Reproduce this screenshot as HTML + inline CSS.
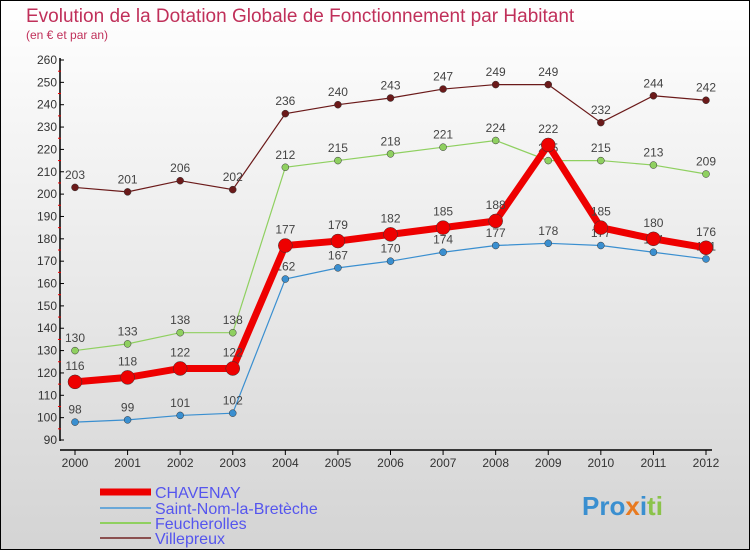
<!DOCTYPE html>
<html><head><meta charset="utf-8"><style>
body{margin:0}
#c{width:750px;height:550px;position:relative;overflow:hidden;font-family:"Liberation Sans",sans-serif}
</style></head><body>
<div id="c">
<svg id="s" width="750" height="550" xmlns="http://www.w3.org/2000/svg">
<defs><linearGradient id="bg" x1="0" y1="0" x2="0" y2="1"><stop offset="0" stop-color="#ffffff"/><stop offset="1" stop-color="#d4d4d4"/></linearGradient></defs>
<rect x="0.5" y="0.5" width="749" height="549" fill="url(#bg)" stroke="#000"/>
<text x="26" y="22" font-size="19" fill="#c0305a">Evolution de la Dotation Globale de Fonctionnement par Habitant</text>
<text x="26" y="39" font-size="12" fill="#c0305a">(en € et par an)</text>
<g id="axes"></g><g id="series"></g><g id="legend"></g>
<text x="582" y="515" font-size="26" font-weight="bold" fill="#3a8fd0">Pro<tspan fill="#e87a20">x</tspan><tspan fill="#3a8fd0">i</tspan><tspan fill="#8bc34a">ti</tspan></text>
</svg>
</div>
<script>
const years=[2000,2001,2002,2003,2004,2005,2006,2007,2008,2009,2010,2011,2012];
const yTicks=[90,100,110,120,130,140,150,160,170,180,190,200,210,220,230,240,250,260];
const chavenay=[116,118,122,122,177,179,182,185,188,222,185,180,176];
const saintNom=[98,99,101,102,162,167,170,174,177,178,177,174,171];
const feucherolles=[130,133,138,138,212,215,218,221,224,215,215,213,209];
const villepreux=[203,201,206,202,236,240,243,247,249,249,232,244,242];
const NS="http://www.w3.org/2000/svg";
function X(i){return 75+i*(706-75)/12;}
function Y(v){return 440-(v-90)*(380/170);}
function mk(t,a,p){const e=document.createElementNS(NS,t);for(const k in a)e.setAttribute(k,a[k]);p.appendChild(e);return e;}
const ax=document.getElementById('axes');
let l=mk('line',{x1:60,y1:58,x2:60,y2:441,stroke:'#000','stroke-width':1.5},ax);


l=mk('line',{x1:60,y1:450,x2:712,y2:450,stroke:'#000','stroke-width':1.5},ax);


yTicks.forEach((v,i)=>{
  mk('line',{x1:60,y1:Y(v),x2:64,y2:Y(v),stroke:'#000'},ax);
  if(i<yTicks.length-1) mk('line',{x1:58,y1:Y(v+5),x2:61,y2:Y(v+5),stroke:'#e00'},ax);
  const t=mk('text',{x:57,y:Y(v)+4,'font-size':12,'text-anchor':'end',fill:'#333'},ax);
  t.textContent=v;
  
  
});
years.forEach((y,i)=>{
  mk('line',{x1:X(i),y1:450,x2:X(i),y2:455,stroke:'#000'},ax);
  const t=mk('text',{x:X(i),y:467,'font-size':12,'text-anchor':'middle',fill:'#333'},ax);
  t.textContent=y;
  
  
});
const sg=document.getElementById('series');
const defs=[
 {d:villepreux,c:'#6b1a1a',w:1.2,r:3.5,n:'villepreux'},
 {d:feucherolles,c:'#8fd060',w:1.2,r:3.5,n:'feucherolles'},
 {d:saintNom,c:'#3a8fd0',w:1.2,r:3.5,n:'saint-nom-la-breteche'},
 {d:chavenay,c:'#ee0000',w:7,r:7,n:'chavenay'}];
defs.forEach(s=>{
  const g=mk('g',{},sg);
  
  
  const p=mk('polyline',{points:s.d.map((v,i)=>X(i)+','+Y(v)).join(' '),fill:'none',stroke:s.c,'stroke-width':s.w},g);
  
  
  s.d.forEach((v,i)=>{
    const c=mk('circle',{cx:X(i),cy:Y(v),r:s.r,fill:s.c,stroke:'#333','stroke-width':0.5},g);
    
    
    const t=mk('text',{x:X(i),y:Y(v)-(s.r+5),'font-size':12,'text-anchor':'middle',fill:'#444'},g);
    t.textContent=v;
    
    
  });
});
const lg=document.getElementById('legend');
const leg=[['CHAVENAY','#ee0000',7,492],['Saint-Nom-la-Bretèche','#6aa8d8',2,508],['Feucherolles','#8fd060',2,523],['Villepreux','#8a5050',2,538]];
leg.forEach(e=>{
  const g=mk('g',{},lg);
  
  
  mk('line',{x1:100,y1:e[3],x2:151,y2:e[3],stroke:e[1],'stroke-width':e[2]},g);
  const t=mk('text',{x:155,y:e[3]+6,'font-size':16,fill:'#5555ee'},g);
  t.textContent=e[0];
});
</script>
</body></html>
